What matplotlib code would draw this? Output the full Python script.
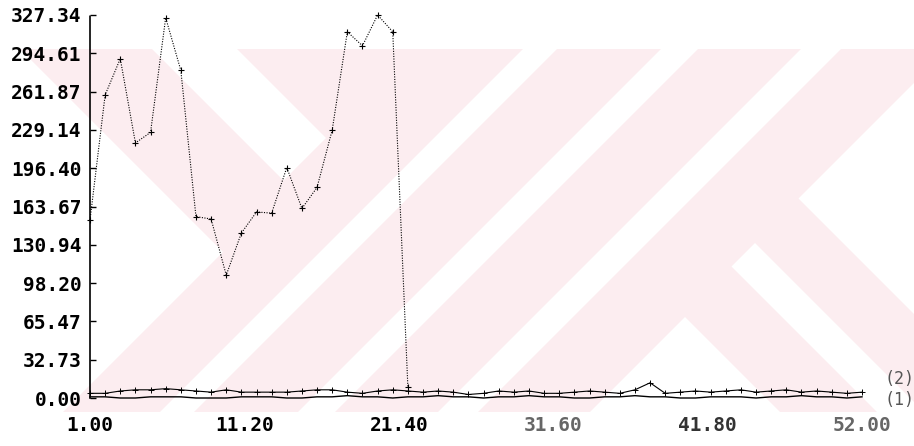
import numpy as np
import matplotlib.pyplot as plt
from matplotlib.patches import Polygon, Rectangle

# values per sample
x_main = np.arange(1, 23)
main_vals = [152, 259, 290, 218, 227, 325, 280, 155, 153, 105, 141, 159, 158,
             197, 162, 180, 229, 313, 301, 327.34, 313, 9]

x_all = np.arange(1, 53)
series2 = [4, 4, 6, 7, 7, 8, 7, 6, 5, 7, 5, 5, 5, 5, 6, 7, 7, 5, 4, 6, 7, 6,
           5, 6, 5, 3, 4, 6, 5, 6, 4, 4, 5, 6, 5, 4, 7, 13, 4, 5, 6, 5, 6, 7,
           5, 6, 7, 5, 6, 5, 4, 5]
series1 = [1, 1, 0, 0, 1, 1, 1, 0, 0, 0, 1, 1, 1, 0, 0, 1, 1, 2, 1, 1, 0, 1,
           1, 2, 1, 1, 0, 1, 1, 2, 1, 1, 0, 0, 1, 1, 2, 1, 1, 0, 0, 1, 1, 1,
           0, 1, 1, 2, 1, 1, 0, 1]

y_ticks = [0.00, 32.73, 65.47, 98.20, 130.94, 163.67, 196.40, 229.14, 261.87,
           294.61, 327.34]
x_ticks = [1.00, 11.20, 21.40, 31.60, 41.80, 52.00]

W, H = 914, 446
fig = plt.figure(figsize=(W / 100, H / 100), dpi=100)

# background logo stripes (pixel coords, y down)
def px(pts):
    return [(x / W, 1 - y / H) for x, y in pts]

pink = '#fcedf0'
bg = Rectangle((20 / W, 1 - 412 / H), (W - 20) / W, (412 - 49) / H,
               transform=fig.transFigure, facecolor=pink, edgecolor='none', zorder=0)
fig.patches.append(bg)
white_shapes = [
    [(223, 252), (-50, -21), (-50, 525)],
    [(152, 49), (237, 49), (326, 138), (283.5, 180.5)],
    [(572, 0), (606, 0), (160, 446), (126, 446)],
    [(710, 0), (747, 0), (301, 446), (264, 446)],
    [(850, 0), (890, 0), (444, 446), (404, 446)],
    [(798.5, 198.5), (997, 0), (1100, 0), (1100, 446), (1046, 446)],
    [(755, 243), (958, 446), (911, 446), (731.5, 266.5)],
    [(685, 317), (814, 446), (556, 446)],
]
for shp in white_shapes:
    p = Polygon(px(shp), closed=True, transform=fig.transFigure,
                facecolor='white', edgecolor='none', zorder=0.5)
    p.set_clip_path(bg)
    fig.patches.append(p)

ax = fig.add_axes([90 / W, 1 - 398 / H, (862 - 90) / W, (398 - 15) / H])
ax.set_zorder(2)
ax.patch.set_alpha(0)

ax.plot(x_main, main_vals, color='black', lw=0.8, ls=(0, (1, 1.3)),
        marker='+', ms=5, mew=0.8, clip_on=False)
ax.plot(x_all, series2, color='black', lw=0.8, marker='+', ms=5, mew=0.7,
        clip_on=False)
ax.plot(x_all, series1, color='black', lw=1.0, clip_on=False)

font = dict(family='DejaVu Sans Mono', weight='bold', size=14)
small = dict(family='DejaVu Sans Mono', size=12, color='#555555')
ax.annotate('(2)', xy=(52, series2[-1]), xytext=(22, 13), textcoords='offset pixels',
            va='center', ha='left', **small)
ax.annotate('(1)', xy=(52, series1[-1]), xytext=(22, -3), textcoords='offset pixels',
            va='center', ha='left', **small)

ax.set_xlim(1, 52)
ax.set_ylim(0, 327.34)
ax.set_yticks(y_ticks)
ax.set_yticklabels([f'{v:.2f}' for v in y_ticks], fontdict=font)
ax.set_xticks(x_ticks)
ax.set_xticklabels([f'{v:.2f}' for v in x_ticks], fontdict=font)
for lab, c in zip(ax.get_xticklabels(), ['black', 'black', 'black', '#666666', '#333333', '#666666']):
    lab.set_color(c)

ax.tick_params(axis='y', direction='in', length=4, width=1, pad=6)
ax.tick_params(axis='x', length=0, pad=13)
for side in ['top', 'right', 'bottom']:
    ax.spines[side].set_visible(False)
ax.spines['left'].set_linestyle((0, (1, 1)))
ax.spines['left'].set_linewidth(1.2)

fig.savefig('out.png', dpi=100)
